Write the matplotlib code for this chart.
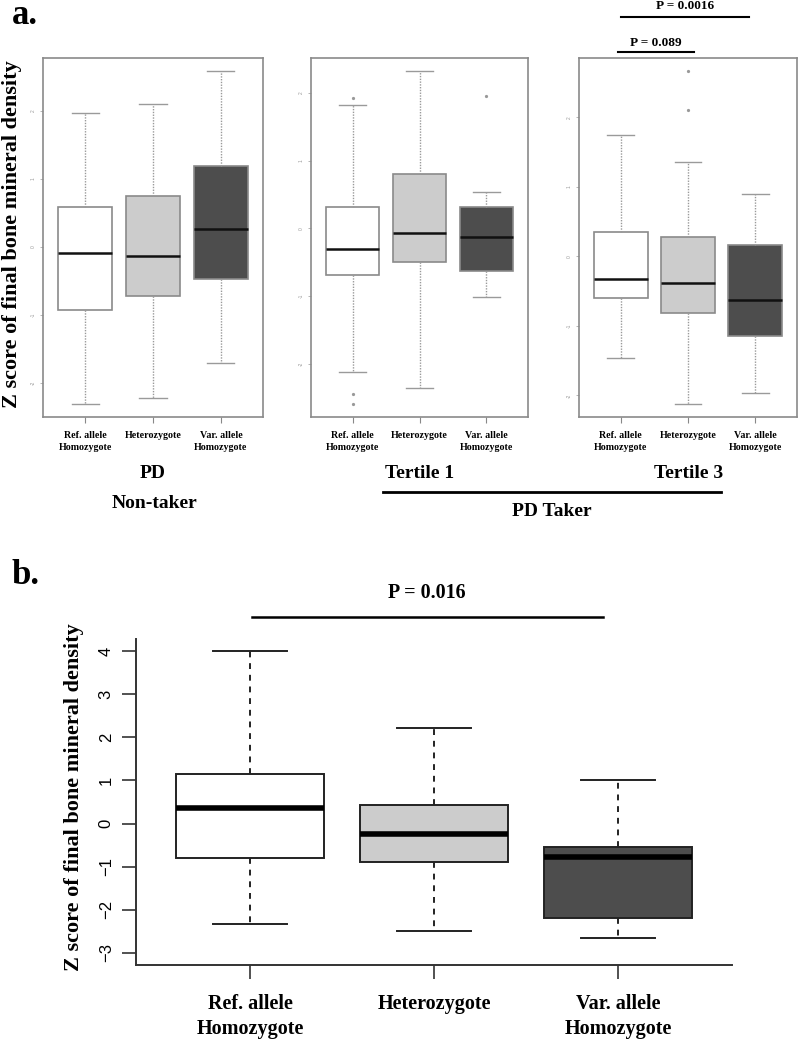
import matplotlib
matplotlib.use("Agg")
import matplotlib.pyplot as plt

plt.rcParams['font.family'] = ['Liberation Serif', 'DejaVu Serif']

W, H = 800, 1042

groups = ["Ref. allele\nHomozygote", "Heterozygote", "Var. allele\nHomozygote"]
fills = ["#ffffff", "#cccccc", "#4d4d4d"]

# panel a - PD non-taker
nt_lo = [-2.31, -2.22, -1.71]
nt_q1 = [-0.93, -0.72, -0.47]
nt_med = [-0.10, -0.13, 0.26]
nt_q3 = [0.59, 0.74, 1.18]
nt_hi = [1.96, 2.10, 2.58]
nt_out = [[], [], []]

# panel a - PD taker, tertile 1
t1_lo = [-2.12, -2.36, -1.02]
t1_q1 = [-0.69, -0.50, -0.63]
t1_med = [-0.30, -0.07, -0.13]
t1_q3 = [0.31, 0.81, 0.32]
t1_hi = [1.82, 2.32, 0.53]
t1_out = [[1.93, -2.44, -2.59], [], [1.95]]

# panel a - PD taker, tertile 3
t3_lo = [-1.46, -2.12, -1.96]
t3_q1 = [-0.60, -0.82, -1.14]
t3_med = [-0.32, -0.39, -0.63]
t3_q3 = [0.345, 0.27, 0.16]
t3_hi = [1.74, 1.35, 0.89]
t3_out = [[], [2.66, 2.11], []]

# panel b
b_lo = [-2.34, -2.50, -2.66]
b_q1 = [-0.81, -0.90, -2.20]
b_med = [0.35, -0.25, -0.78]
b_q3 = [1.16, 0.44, -0.55]
b_hi = [4.0, 2.22, 1.0]
b_ticks = [-3, -2, -1, 0, 1, 2, 3, 4]

fig = plt.figure(figsize=(W / 100, H / 100), dpi=100)


def px_axes(l, t, r, b):
    return fig.add_axes([l / W, 1 - b / H, (r - l) / W, (b - t) / H])


def px_text(x, y, s, **kw):
    fig.text(x / W, 1 - y / H, s, **kw)


def stats(lo, q1, med, q3, hi, out):
    return [dict(whislo=lo[i], q1=q1[i], med=med[i], q3=q3[i], whishi=hi[i],
                 fliers=out[i]) for i in range(len(lo))]


def r_pad(lo, hi):
    d = (hi - lo) * 0.04
    return lo - d, hi + d


def draw_small(ax, st, ticks):
    bp = ax.bxp(st, positions=[1, 2, 3], widths=0.8, capwidths=0.4,
                patch_artist=True,
                boxprops=dict(edgecolor="#8a8a8a", linewidth=1.2),
                medianprops=dict(color="#111111", linewidth=1.8),
                whiskerprops=dict(color="#9a9a9a", linestyle=(0, (1, 1)), linewidth=1),
                capprops=dict(color="#9a9a9a", linewidth=1),
                flierprops=dict(marker="o", markersize=1.3, markerfacecolor="#999999",
                                markeredgecolor="#999999", linestyle="none"))
    for p, c in zip(bp["boxes"], fills):
        p.set_facecolor(c)
    vals = [v for s in st for v in (s["whislo"], s["whishi"], *s["fliers"])]
    ax.set_ylim(*r_pad(min(vals), max(vals)))
    ax.set_xlim(0.38, 3.62)
    ax.set_yticks(ticks)
    ax.set_yticklabels([str(t) for t in ticks], rotation=90, fontsize=3.5,
                       color="#999999", family="Liberation Sans", va="center")
    ax.set_xticks([1, 2, 3])
    ax.set_xticklabels(groups, fontsize=7.2, fontweight="bold", linespacing=1.5)
    ax.tick_params(axis="y", length=2, width=0.6, color="#aaaaaa", pad=3)
    ax.tick_params(axis="x", length=4, width=0.8, color="#888888", pad=6)
    for sp in ax.spines.values():
        sp.set_color("#8a8a8a")
        sp.set_linewidth(1.2)


ax1 = px_axes(43, 58, 263, 417)
draw_small(ax1, stats(nt_lo, nt_q1, nt_med, nt_q3, nt_hi, nt_out), [-2, -1, 0, 1, 2])
ax2 = px_axes(311, 58, 528, 417)
draw_small(ax2, stats(t1_lo, t1_q1, t1_med, t1_q3, t1_hi, t1_out), [-2, -1, 0, 1, 2])
ax3 = px_axes(579, 58, 797, 417)
draw_small(ax3, stats(t3_lo, t3_q1, t3_med, t3_q3, t3_hi, t3_out), [-2, -1, 0, 1, 2])

# panel b
axb = px_axes(136, 639, 732, 965)
st_b = stats(b_lo, b_q1, b_med, b_q3, b_hi, [[], [], []])
bp = axb.bxp(st_b, positions=[1, 2, 3], widths=0.8, capwidths=0.4, patch_artist=True,
             boxprops=dict(edgecolor="#222222", linewidth=1.4),
             medianprops=dict(color="black", linewidth=4),
             whiskerprops=dict(color="#222222", linestyle=(0, (3, 3)), linewidth=1.4),
             capprops=dict(color="#222222", linewidth=1.4))
for p, c in zip(bp["boxes"], fills):
    p.set_facecolor(c)
axb.set_ylim(*r_pad(-3, 4))
axb.set_xlim(0.38, 3.62)
axb.set_yticks(b_ticks)
axb.set_yticklabels(["\u22123", "\u22122", "\u22121", "0", "1", "2", "3", "4"],
                    rotation=90, fontsize=12, family="Liberation Sans", va="center")
axb.set_xticks([1, 2, 3])
axb.set_xticklabels(groups, fontsize=14.5, fontweight="bold", linespacing=1.3)
axb.tick_params(axis="y", length=10, width=1.2, color="#333333", pad=6)
axb.tick_params(axis="x", length=10, width=1.2, color="#333333", pad=11)
for s in ["top", "right"]:
    axb.spines[s].set_visible(False)
for s in ["left", "bottom"]:
    axb.spines[s].set_color("#333333")
    axb.spines[s].set_linewidth(1.4)

# labels
ylab = "Z score of final bone mineral density"
px_text(12, 234, ylab, rotation=90, fontsize=16, fontweight="bold", ha="center", va="center")
px_text(74, 797, ylab, rotation=90, fontsize=16, fontweight="bold", ha="center", va="center")
px_text(12, 16, "a.", fontsize=25, fontweight="bold", ha="left", va="center")
px_text(12, 576, "b.", fontsize=25, fontweight="bold", ha="left", va="center")

px_text(153, 474, "PD", fontsize=14, fontweight="bold", ha="center", va="center")
px_text(155, 503, "Non-taker", fontsize=14, fontweight="bold", ha="center", va="center")
px_text(420, 474, "Tertile 1", fontsize=14, fontweight="bold", ha="center", va="center")
px_text(689, 474, "Tertile 3", fontsize=14, fontweight="bold", ha="center", va="center")
px_text(552, 511, "PD Taker", fontsize=14, fontweight="bold", ha="center", va="center")
fig.add_artist(plt.Line2D([383 / W, 721 / W], [1 - 492 / H, 1 - 492 / H], color="black", linewidth=2))

# significance bars
px_text(685, 6, "P = 0.0016", fontsize=9.5, fontweight="bold", ha="center", va="center")
fig.add_artist(plt.Line2D([621 / W, 749 / W], [1 - 17 / H, 1 - 17 / H], color="black", linewidth=1.5))
px_text(656, 43, "P = 0.089", fontsize=9.5, fontweight="bold", ha="center", va="center")
fig.add_artist(plt.Line2D([618 / W, 694 / W], [1 - 52 / H, 1 - 52 / H], color="black", linewidth=1.5))
px_text(427, 593, "P = 0.016", fontsize=14.5, fontweight="bold", ha="center", va="center")
fig.add_artist(plt.Line2D([252 / W, 603 / W], [1 - 617 / H, 1 - 617 / H], color="black", linewidth=1.8))

fig.savefig("out.png", dpi=100)
